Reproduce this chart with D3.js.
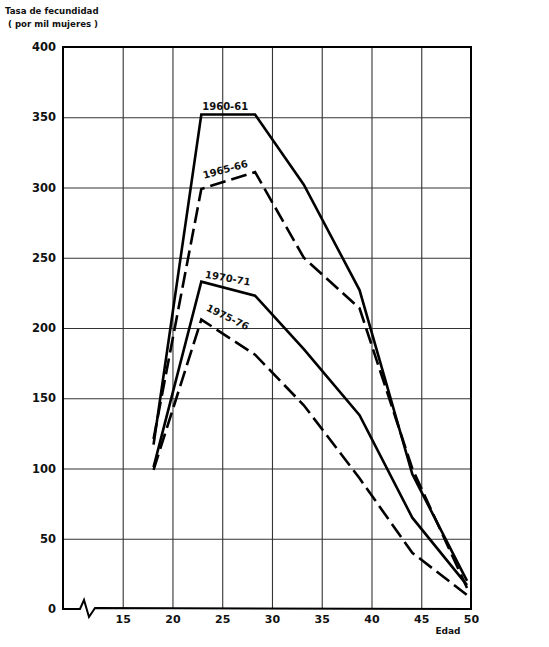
<!DOCTYPE html>
<html lang="es">
<head>
<meta charset="utf-8">
<style>
  body { margin: 0; background: #fff; }
  text { font-family: "DejaVu Sans", sans-serif; font-weight: bold; fill: #111; }
  .grid line { stroke: #333; stroke-width: 1.1px; }
  .grid path { display: none; }
  .serie { fill: none; stroke: #000; stroke-width: 2.6px; stroke-linejoin: miter; }
</style>
</head>
<body>
<svg width="549" height="647"></svg>
<script src="https://d3js.org/d3.v7.min.js"></script>
<script>
// edades (abscisas) y tasas por mil mujeres
var edades = [18.1, 22.9, 28.3, 33.2, 38.8, 44.1, 49.6];
var t1960 = [117, 352, 352, 302, 227, 96, 20];
var t1965 = [121, 299, 311, 250, 214, 100, 15];
var t1970 = [101, 233, 223, 185, 138, 65, 17];
var t1975 = [99, 206, 181, 145, 93, 40, 10];
var etiquetas = ["1960-61", "1965-66", "1970-71", "1975-76"];
var yTicks = [0, 50, 100, 150, 200, 250, 300, 350, 400];
var xTicks = [15, 20, 25, 30, 35, 40, 45, 50];

var svg = d3.select("svg");
var mIzq = 63, mDer = 471, mSup = 47, mInf = 609;

var x = d3.scaleLinear().domain([9, 50]).range([mIzq, mDer]);
var y = d3.scaleLinear().domain([0, 400]).range([mInf, mSup]);

// rejilla vertical
svg.append("g")
    .attr("class", "grid")
    .attr("transform", "translate(0," + mInf + ")")
    .call(d3.axisBottom(x).tickValues(xTicks.slice(0, -1)).tickSize(-(mInf - mSup)).tickFormat(""));

// rejilla horizontal
svg.append("g")
    .attr("class", "grid")
    .attr("transform", "translate(" + mIzq + ",0)")
    .call(d3.axisLeft(y).tickValues(yTicks.slice(1, -1)).tickSize(-(mDer - mIzq)).tickFormat(""));

// etiquetas eje y
var ay = svg.append("g")
    .attr("transform", "translate(" + (mIzq - 7) + ",0)")
    .call(d3.axisLeft(y).tickValues(yTicks).tickSize(0).tickPadding(0));
ay.select(".domain").remove();
ay.selectAll("text").attr("font-size", 11.5).attr("font-family", null).style("font-weight", "bold");

// etiquetas eje x
var ax = svg.append("g")
    .attr("transform", "translate(0," + (mInf + 6) + ")")
    .call(d3.axisBottom(x).tickValues(xTicks).tickSize(0).tickPadding(0));
ax.select(".domain").remove();
ax.selectAll("text").attr("font-size", 11).attr("font-family", null).style("font-weight", "bold");

// marco con corte del eje x
svg.append("path")
    .attr("d", "M" + mIzq + "," + mInf + " L" + mIzq + "," + mSup + " L" + mDer + "," + mSup + " L" + mDer + "," + mInf +
        " L" + (mIzq + 32) + "," + (mInf - 1) + " L" + (mIzq + 26) + "," + (mInf + 8) + " L" + (mIzq + 21) + "," + (mInf - 9) +
        " L" + (mIzq + 17) + "," + mInf + " Z")
    .attr("fill", "none")
    .attr("stroke", "#000")
    .attr("stroke-width", 2);

var linea = d3.line()
    .x(function (d, i) { return x(edades[i]); })
    .y(function (d) { return y(d); });

var series = [
    { v: t1960, dash: null },
    { v: t1965, dash: "16,6" },
    { v: t1970, dash: null },
    { v: t1975, dash: "16,6" }
];

svg.selectAll(".serie")
    .data(series)
    .enter()
    .append("path")
    .attr("class", "serie")
    .attr("d", function (d) { return linea(d.v); })
    .attr("stroke-dasharray", function (d) { return d.dash; });

// rotulos de las curvas
var pos = [
    { ex: 25.3, ty: 355, rot: 0 },
    { ex: 25.4, ty: 310.5, rot: -15 },
    { ex: 25.5, ty: 233, rot: 10 },
    { ex: 25.4, ty: 205.5, rot: 26 }
];
svg.selectAll(".rotulo")
    .data(etiquetas)
    .enter()
    .append("text")
    .attr("class", "rotulo")
    .attr("font-size", 10)
    .attr("text-anchor", "middle")
    .attr("transform", function (d, i) {
        return "translate(" + x(pos[i].ex) + "," + y(pos[i].ty) + ") rotate(" + pos[i].rot + ")";
    })
    .text(function (d) { return d; });

// titulos
svg.append("text").attr("x", 5).attr("y", 14).attr("font-size", 8.6).text("Tasa de fecundidad");
svg.append("text").attr("x", 8).attr("y", 27).attr("font-size", 8.6).text("( por mil mujeres )");
svg.append("text").attr("x", 448).attr("y", 634).attr("font-size", 9).attr("text-anchor", "middle").text("Edad");
</script>
</body>
</html>
